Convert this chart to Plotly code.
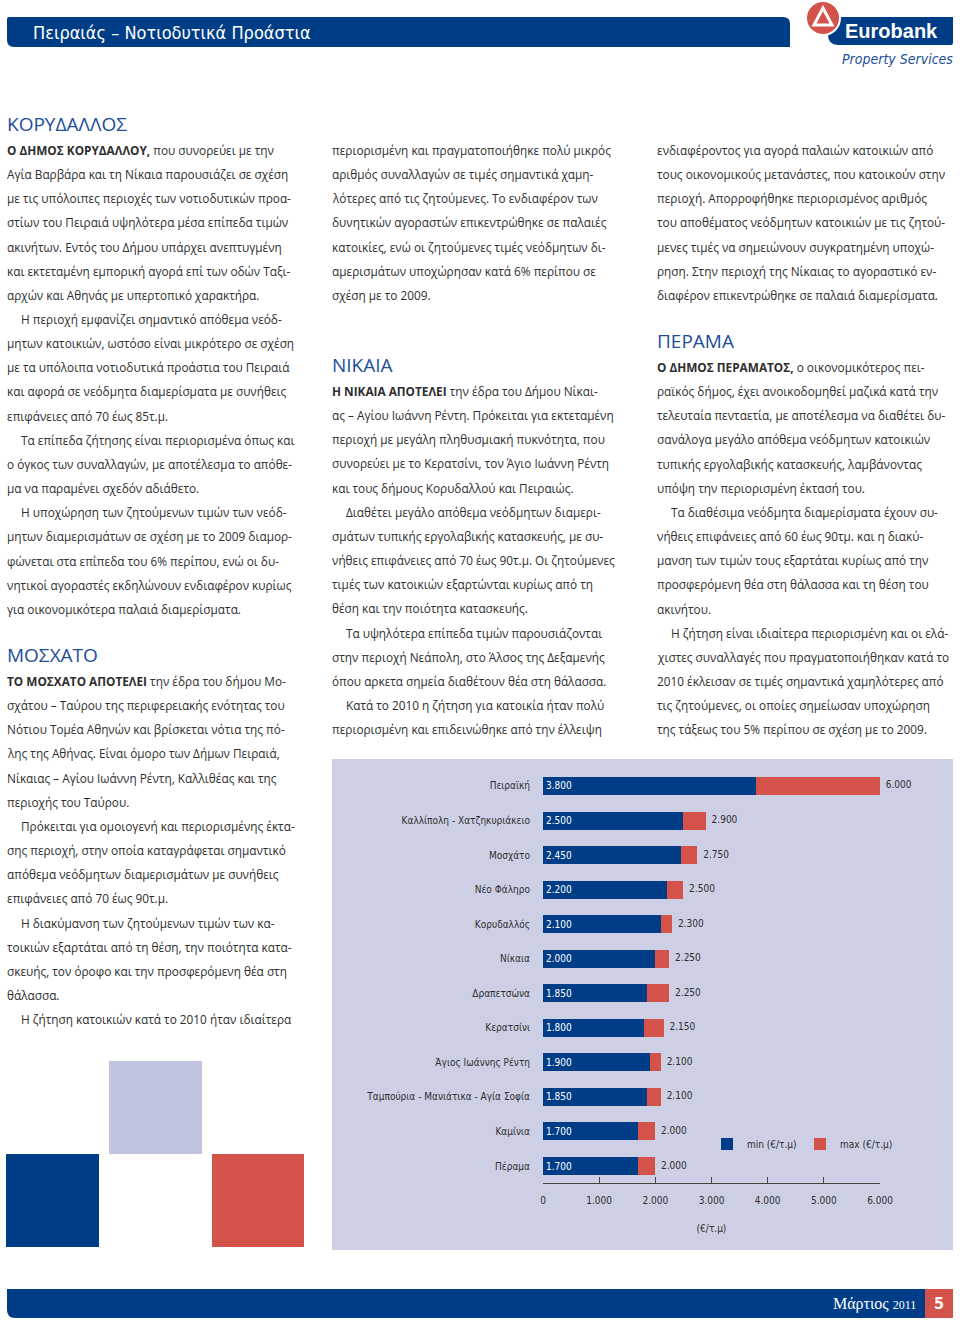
import plotly.graph_objects as go

# ---------------- chart data ----------------
areas = ["Πειραϊκή", "Καλλίπολη - Χατζηκυριάκειο", "Μοσχάτο", "Νέο Φάληρο",
         "Κορυδαλλός", "Νίκαια", "Δραπετσώνα", "Κερατσίνι",
         "Άγιος Ιωάννης Ρέντη", "Ταμπούρια - Μανιάτικα - Αγία Σοφία",
         "Καμίνια", "Πέραμα"]
min_price = [3800, 2500, 2450, 2200, 2100, 2000, 1850, 1800, 1900, 1850, 1700, 1700]
max_price = [6000, 2900, 2750, 2500, 2300, 2250, 2250, 2150, 2100, 2100, 2000, 2000]
x_tick_vals = [0, 1000, 2000, 3000, 4000, 5000, 6000]
x_tick_text = ["0", "1.000", "2.000", "3.000", "4.000", "5.000", "6.000"]
series_names = ["min (€/τ.μ)", "max (€/τ.μ)"]
axis_title = "(€/τ.μ)"

# ---------------- page text ----------------
page_title = "Πειραιάς – Νοτιοδυτικά Προάστια"
brand = "Eurobank"
brand_sub = "Property Services"
footer_month = "Μάρτιος"
footer_year = "2011"
page_number = "5"

# each column: list of sections; section = (heading or None, paragraphs)
# paragraph = (indent?, [lines])
col1 = [
    ("ΚΟΡΥΔΑΛΛΟΣ", [
        (False, ["<b>Ο ΔΗΜΟΣ ΚΟΡΥΔΑΛΛΟΥ,</b> που συνορεύει με την",
                 "Αγία Βαρβάρα και τη Νίκαια παρουσιάζει σε σχέση",
                 "με τις υπόλοιπες περιοχές των νοτιοδυτικών προα-",
                 "στίων του Πειραιά υψηλότερα μέσα επίπεδα τιμών",
                 "ακινήτων. Εντός του Δήμου υπάρχει ανεπτυγμένη",
                 "και εκτεταμένη εμπορική αγορά επί των οδών Ταξι-",
                 "αρχών και Αθηνάς με υπερτοπικό χαρακτήρα."]),
        (True, ["Η περιοχή εμφανίζει σημαντικό απόθεμα νεόδ-",
                "μητων κατοικιών, ωστόσο είναι μικρότερο σε σχέση",
                "με τα υπόλοιπα νοτιοδυτικά προάστια του Πειραιά",
                "και αφορά σε νεόδμητα διαμερίσματα με συνήθεις",
                "επιφάνειες από 70 έως 85τ.μ."]),
        (True, ["Τα επίπεδα ζήτησης είναι περιορισμένα όπως και",
                "ο όγκος των συναλλαγών, με αποτέλεσμα το απόθε-",
                "μα να παραμένει σχεδόν αδιάθετο."]),
        (True, ["Η υποχώρηση των ζητούμενων τιμών των νεόδ-",
                "μητων διαμερισμάτων σε σχέση με το 2009 διαμορ-",
                "φώνεται στα επίπεδα του 6% περίπου, ενώ οι δυ-",
                "νητικοί αγοραστές εκδηλώνουν ενδιαφέρον κυρίως",
                "για οικονομικότερα παλαιά διαμερίσματα."]),
    ]),
    ("ΜΟΣΧΑΤΟ", [
        (False, ["<b>ΤΟ ΜΟΣΧΑΤΟ ΑΠΟΤΕΛΕΙ</b> την έδρα του δήμου Μο-",
                 "σχάτου – Ταύρου της περιφερειακής ενότητας του",
                 "Νότιου Τομέα Αθηνών και βρίσκεται νότια της πό-",
                 "λης της Αθήνας. Είναι όμορο των Δήμων Πειραιά,",
                 "Νίκαιας – Αγίου Ιωάννη Ρέντη, Καλλιθέας και της",
                 "περιοχής του Ταύρου."]),
        (True, ["Πρόκειται για ομοιογενή και περιορισμένης έκτα-",
                "σης περιοχή, στην οποία καταγράφεται σημαντικό",
                "απόθεμα νεόδμητων διαμερισμάτων με συνήθεις",
                "επιφάνειες από 70 έως 90τ.μ."]),
        (True, ["Η διακύμανση των ζητούμενων τιμών των κα-",
                "τοικιών εξαρτάται από τη θέση, την ποιότητα κατα-",
                "σκευής, τον όροφο και την προσφερόμενη θέα στη",
                "θάλασσα."]),
        (True, ["Η ζήτηση κατοικιών κατά το 2010 ήταν ιδιαίτερα"]),
    ]),
]
col2 = [
    (None, [
        (False, ["περιορισμένη και πραγματοποιήθηκε πολύ μικρός",
                 "αριθμός συναλλαγών σε τιμές σημαντικά χαμη-",
                 "λότερες από τις ζητούμενες. Το ενδιαφέρον των",
                 "δυνητικών αγοραστών επικεντρώθηκε σε παλαιές",
                 "κατοικίες, ενώ οι ζητούμενες τιμές νεόδμητων δι-",
                 "αμερισμάτων υποχώρησαν κατά 6% περίπου σε",
                 "σχέση με το 2009."]),
    ]),
    ("ΝΙΚΑΙΑ", [
        (False, ["<b>Η ΝΙΚΑΙΑ ΑΠΟΤΕΛΕΙ</b> την έδρα του Δήμου Νίκαι-",
                 "ας – Αγίου Ιωάννη Ρέντη. Πρόκειται για εκτεταμένη",
                 "περιοχή με μεγάλη πληθυσμιακή πυκνότητα, που",
                 "συνορεύει με το Κερατσίνι, τον Άγιο Ιωάννη Ρέντη",
                 "και τους δήμους Κορυδαλλού και Πειραιώς."]),
        (True, ["Διαθέτει μεγάλο απόθεμα νεόδμητων διαμερι-",
                "σμάτων τυπικής εργολαβικής κατασκευής, με συ-",
                "νήθεις επιφάνειες από 70 έως 90τ.μ. Οι ζητούμενες",
                "τιμές των κατοικιών εξαρτώνται κυρίως από τη",
                "θέση και την ποιότητα κατασκευής."]),
        (True, ["Τα υψηλότερα επίπεδα τιμών παρουσιάζονται",
                "στην περιοχή Νεάπολη, στο Άλσος της Δεξαμενής",
                "όπου αρκετα σημεία διαθέτουν θέα στη θάλασσα."]),
        (True, ["Κατά το 2010 η ζήτηση για κατοικία ήταν πολύ",
                "περιορισμένη και επιδεινώθηκε από την έλλειψη"]),
    ]),
]
col3 = [
    (None, [
        (False, ["ενδιαφέροντος για αγορά παλαιών κατοικιών από",
                 "τους οικονομικούς μετανάστες, που κατοικούν στην",
                 "περιοχή. Απορροφήθηκε περιορισμένος αριθμός",
                 "του αποθέματος νεόδμητων κατοικιών με τις ζητού-",
                 "μενες τιμές να σημειώνουν συγκρατημένη υποχώ-",
                 "ρηση. Στην περιοχή της Νίκαιας το αγοραστικό εν-",
                 "διαφέρον επικεντρώθηκε σε παλαιά διαμερίσματα."]),
    ]),
    ("ΠΕΡΑΜΑ", [
        (False, ["<b>Ο ΔΗΜΟΣ ΠΕΡΑΜΑΤΟΣ,</b> ο οικονομικότερος πει-",
                 "ραϊκός δήμος, έχει ανοικοδομηθεί μαζικά κατά την",
                 "τελευταία πενταετία, με αποτέλεσμα να διαθέτει δυ-",
                 "σανάλογα μεγάλο απόθεμα νεόδμητων κατοικιών",
                 "τυπικής εργολαβικής κατασκευής, λαμβάνοντας",
                 "υπόψη την περιορισμένη έκτασή του."]),
        (True, ["Τα διαθέσιμα νεόδμητα διαμερίσματα έχουν συ-",
                "νήθεις επιφάνειες από 60 έως 90τμ. και η διακύ-",
                "μανση των τιμών τους εξαρτάται κυρίως από την",
                "προσφερόμενη θέα στη θάλασσα και τη θέση του",
                "ακινήτου."]),
        (True, ["Η ζήτηση είναι ιδιαίτερα περιορισμένη και οι ελά-",
                "χιστες συναλλαγές που πραγματοποιήθηκαν κατά το",
                "2010 έκλεισαν σε τιμές σημαντικά χαμηλότερες από",
                "τις ζητούμενες, οι οποίες σημείωσαν υποχώρηση",
                "της τάξεως του 5% περίπου σε σχέση με το 2009."]),
    ]),
]

# ---------------- styling / layout ----------------
W, H = 960, 1324
BLUE = "#003d87"
RED = "#d3524a"
LAV = "#cdd0e5"
LAV_SQ = "#c0c4de"
HEAD_BLUE = "#1c4e9b"
TEXT = "#2e2e2e"
COND = "Liberation Sans Narrow, DejaVu Sans Condensed, Arial Narrow, sans-serif"
BODY = "Open Sans, Noto Sans, sans-serif"
CH = 10  # chart font size


def px(x):
    return x / W


def py(y):
    return 1 - y / H


def rpath(x0, y0, x1, y1, tl=0, tr=0, br=0, bl=0):
    def P(x, y):
        return f"{px(x):.5f},{py(y):.5f}"
    d = f"M{P(x0 + tl, y0)} L{P(x1 - tr, y0)} "
    d += f"Q{P(x1, y0)} {P(x1, y0 + tr)} " if tr else ""
    d += f"L{P(x1, y1 - br)} "
    d += f"Q{P(x1, y1)} {P(x1 - br, y1)} " if br else ""
    d += f"L{P(x0 + bl, y1)} "
    d += f"Q{P(x0, y1)} {P(x0, y1 - bl)} " if bl else ""
    d += f"L{P(x0, y0 + tl)} "
    d += f"Q{P(x0, y0)} {P(x0 + tl, y0)} " if tl else ""
    return d + "Z"


def fmt(v):
    return f"{v:,}".replace(",", ".")


fig = go.Figure()

fig.add_trace(go.Bar(
    y=areas, x=min_price, orientation="h", name=series_names[0],
    marker=dict(color=BLUE, line=dict(width=0)), width=0.52,
    text=[fmt(v) for v in min_price], textposition="inside",
    insidetextanchor="start", constraintext="none",
    textfont=dict(color="white", size=CH, family=COND), hoverinfo="skip"))
fig.add_trace(go.Bar(
    y=areas, x=[mx - mn for mn, mx in zip(min_price, max_price)],
    orientation="h", name=series_names[1],
    marker=dict(color=RED, line=dict(width=0)), width=0.52, hoverinfo="skip"))
fig.add_trace(go.Scatter(
    y=areas, x=max_price, mode="text", text=["  " + fmt(v) for v in max_price],
    textposition="middle right", textfont=dict(color=TEXT, size=CH, family=COND),
    showlegend=False, cliponaxis=False, hoverinfo="skip"))

shapes = []
# chart panel
shapes.append(dict(type="rect", xref="paper", yref="paper", x0=px(332), x1=px(953),
                   y0=py(1250), y1=py(759), fillcolor=LAV, line=dict(width=0), layer="below"))
# header bar
shapes.append(dict(type="path", xref="paper", yref="paper",
                   path=rpath(7, 17, 790, 47, tl=2, tr=7, br=0, bl=7),
                   fillcolor=BLUE, line=dict(width=0)))
# logo tab
shapes.append(dict(type="path", xref="paper", yref="paper",
                   path=rpath(828, 17, 953, 45, tl=0, tr=0, br=2, bl=10),
                   fillcolor=BLUE, line=dict(width=0)))
# logo circle
shapes.append(dict(type="circle", xref="paper", yref="paper",
                   x0=px(806), x1=px(840), y0=py(35), y1=py(1),
                   fillcolor=RED, line=dict(color="white", width=2)))
shapes.append(dict(type="path", xref="paper", yref="paper",
                   path=f"M{px(814):.5f},{py(25):.5f} L{px(823):.5f},{py(8):.5f} "
                        f"L{px(832):.5f},{py(25):.5f} Z",
                   fillcolor="rgba(0,0,0,0)", line=dict(color="white", width=3)))
# footer bar + page box
shapes.append(dict(type="path", xref="paper", yref="paper",
                   path=rpath(7, 1289, 925, 1318, tl=0, tr=0, br=0, bl=8),
                   fillcolor=BLUE, line=dict(width=0)))
shapes.append(dict(type="rect", xref="paper", yref="paper", x0=px(925), x1=px(953),
                   y0=py(1318), y1=py(1289), fillcolor=RED, line=dict(width=0)))
# decorative squares
for (x0, y0, x1, y1, c) in [(109, 1061, 202, 1154, LAV_SQ),
                            (6, 1154, 99, 1247, BLUE),
                            (212, 1154, 304, 1247, RED)]:
    shapes.append(dict(type="rect", xref="paper", yref="paper", x0=px(x0), x1=px(x1),
                       y0=py(y1), y1=py(y0), fillcolor=c, line=dict(width=0)))

ann = []


def A(x, y, text, size, color=TEXT, family=BODY, xanchor="left"):
    ann.append(dict(x=px(x), y=py(y), xref="paper", yref="paper", text=text,
                    showarrow=False, xanchor=xanchor, yanchor="middle",
                    font=dict(size=size, color=color, family=family)))


A(31, 32, page_title, 18, "white", COND)
A(843, 31, f"<b>{brand}</b>", 20, "white", "Liberation Sans, Arial, sans-serif")
A(955, 59, f"<i>{brand_sub}</i>", 14, HEAD_BLUE, COND, xanchor="right")
A(918, 1304, f"{footer_month} <span style='font-size:12px'>{footer_year}</span>", 16,
  "white", "Liberation Serif, DejaVu Serif, serif", xanchor="right")
A(939, 1303, f"<b>{page_number}</b>", 16, "white", COND, xanchor="center")

PITCH = 24.15
# (column data, x, [(heading_y, first_line_y) per section])
columns = [(col1, 5, [(124, 150), (655, 681)]),
           (col2, 330, [(None, 150), (365, 391)]),
           (col3, 655, [(None, 150), (341, 367)])]
for col, x, pos in columns:
    for (head, paras), (hy, ly) in zip(col, pos):
        if head:
            A(x, hy, head, 19, HEAD_BLUE, BODY)
        i = 0
        for indent, lines in paras:
            for j, line in enumerate(lines):
                A(x + (14 if indent and j == 0 else 0), ly + i * PITCH, line, 11.8)
                i += 1

fig.update_layout(
    width=W, height=H, autosize=False, template="none",
    margin=dict(l=0, r=0, t=0, b=0),
    paper_bgcolor="white", plot_bgcolor="rgba(0,0,0,0)",
    barmode="stack", separators=",.",
    showlegend=True,
    legend=dict(orientation="h", x=px(707), y=py(1144), xanchor="left", yanchor="middle",
                bgcolor="rgba(0,0,0,0)", font=dict(size=CH, color=TEXT, family=COND),
                itemwidth=30, entrywidth=48, entrywidthmode="pixels", traceorder="normal"),
    xaxis=dict(domain=[px(543), px(880)], range=[0, 6000], showgrid=False, zeroline=False,
               showline=True, linecolor="#444", linewidth=1, ticks="inside", ticklen=6,
               tickcolor="#444", tickvals=x_tick_vals, ticktext=x_tick_text,
               tickfont=dict(size=CH, color=TEXT, family=COND), ticklabelstandoff=8,
               automargin=False,
               title=dict(text=axis_title, standoff=19,
                          font=dict(size=CH, color=TEXT, family=COND))),
    yaxis=dict(domain=[py(1183.3), py(768.7)], range=[11.5, -0.5], showgrid=False,
               zeroline=False, showline=False, ticks="", ticklabelstandoff=12,
               tickfont=dict(size=CH, color=TEXT, family=COND), automargin=False),
    shapes=shapes, annotations=ann,
)

fig.write_html("out.html", config={"displayModeBar": False},
               post_script="document.body.style.margin='0';")
